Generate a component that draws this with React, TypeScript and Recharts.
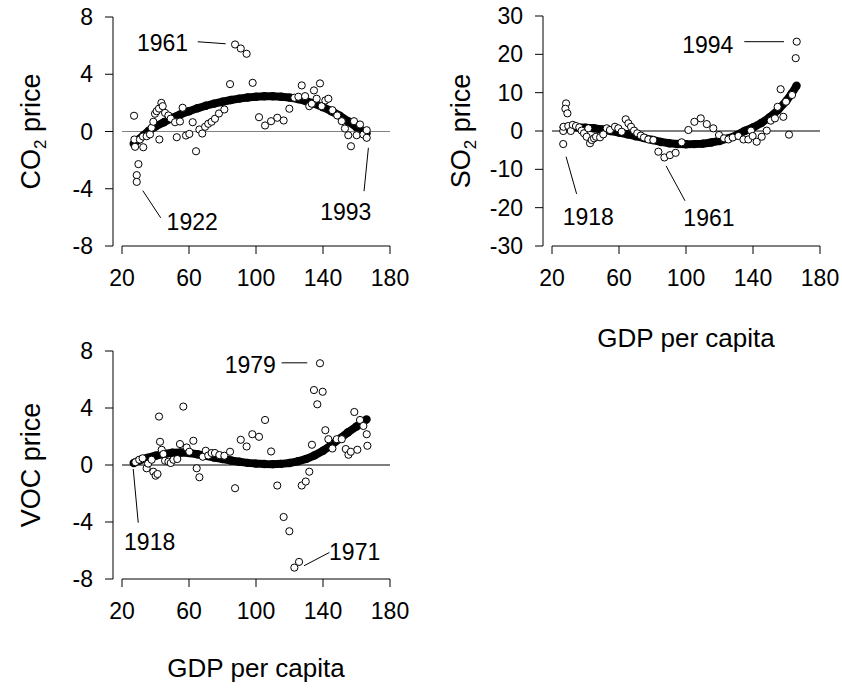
import React from 'react';
import { ScatterChart, Scatter, XAxis, YAxis, ReferenceLine, ReferenceDot } from 'recharts';

const FONT = '"Liberation Sans", Arial, Helvetica, sans-serif';

const gdpTicks = [20, 60, 100, 140, 180];
const co2Ticks = [-8, -4, 0, 4, 8];
const so2Ticks = [-30, -20, -10, 0, 10, 20, 30];
const vocTicks = [-8, -4, 0, 4, 8];

const co2Observed = [
  [27.2, 1.1], [27.4, -0.56], [27.8, -1.07], [29.8, -2.28], [28.8, -3.05], [28.8, -3.52], [30.7, -0.56],
  [32.5, -0.35], [32.7, -1.1], [34.7, -0.33], [36.7, -0.2], [37.7, 0.26], [38.7, 0.68], [39.7, 1.24],
  [40.7, 1.42], [42.1, 1.6], [43.5, 2.0], [44.3, 1.77], [45.7, 1.3], [47.7, 1.12], [49.1, 0.9], [42.3, -0.56],
  [51.7, 0.65], [52.7, -0.4], [54.6, 0.7], [56.2, 1.66], [58.2, -0.28], [60.2, -0.17], [62.2, 0.65],
  [64.2, -1.38], [66.2, 0.14], [67.9, -0.14], [69.6, 0.33], [71.5, 0.54], [73.5, 0.68], [75.5, 0.89],
  [77.9, 1.26], [81.1, 1.54], [84.5, 3.31], [87.5, 6.08], [90.9, 5.8], [94.4, 5.43], [98.0, 3.4],
  [101.8, 1.0], [105.4, 0.42], [109, 0.72], [112.7, 0.96], [116.5, 0.77], [119.9, 1.59], [122.9, 2.36],
  [125.3, 2.43], [127.3, 3.22], [129.3, 2.47], [131.8, 1.77], [133.3, 1.94], [134.6, 2.87], [136.2, 2.29],
  [138.2, 3.36], [139.2, 1.77], [141.4, 2.17], [143.2, 2.29], [145.6, 1.49], [148.5, 1.12], [151.2, 0.72],
  [153.1, 0.21], [155.1, -0.26], [156.7, -1.03], [158.5, 0.72], [160.1, -0.26], [162.1, 0.49],
  [164.1, -0.21], [166.1, 0.09], [166.1, -0.44],
];
const co2Fitted = [
  [27, -0.85], [30, -0.55], [33, -0.25], [36, 0.05], [40, 0.35], [45, 0.65], [50, 0.95], [55, 1.2],
  [60, 1.42], [65, 1.62], [70, 1.8], [75, 1.95], [80, 2.08], [85, 2.2], [90, 2.3], [95, 2.38], [100, 2.43],
  [105, 2.46], [110, 2.46], [115, 2.43], [120, 2.37], [125, 2.27], [130, 2.12], [135, 1.93], [140, 1.7],
  [145, 1.42], [150, 1.1], [155, 0.72], [160, 0.3], [163, 0.08], [166, -0.12],
];

const so2Observed = [
  [26.7, -3.4], [28.4, 7.2], [28.0, 5.8], [29.2, 4.6], [26.7, 0], [26.9, 1.1], [29.7, 1.3], [31.2, 0],
  [32.4, 1.6], [34.3, 1.3], [36.3, 0.95], [37.7, 0.1], [39.1, -0.6], [40.7, -1.5], [41.7, 0.7], [42.7, -3.2],
  [43.7, -2.35], [45.1, -1.9], [46.3, -1.5], [48.7, -1.65], [50.6, -0.87], [52.7, 0.7], [54.6, 0.26],
  [57.6, 1.1], [59.6, 0.7], [61.6, -0.2], [64, 3.05], [65.6, 2.0], [67.2, 1.1], [69, 0.1], [70.9, -0.6],
  [73, -1.2], [74.9, -1.7], [77.5, -2.2], [80.5, -2.35], [83.5, -5.4], [87.1, -6.9], [90.4, -6.3],
  [93.8, -5.7], [97.4, -2.95], [101.4, 0.26], [105, 2.4], [108.8, 3.3], [112.4, 1.8], [116.3, 0.7],
  [119.7, -1.05], [122.7, -1.9], [125.3, -2.2], [127.9, -1.7], [131.3, -1.3], [134.3, -2.2], [137.2, -2.2],
  [138.8, 0.1], [139.8, -1.3], [142.2, -2.8], [145.2, -1.5], [148.2, 0.1], [150.6, 2.7], [153.1, 3.3],
  [154.7, 6.3], [156.5, 10.9], [158.1, 3.7], [159.7, 7.65], [161.5, -0.95], [163.3, 9.4], [165.5, 19],
  [166.1, 23.3],
];
const so2Fitted = [
  [27, 0.95], [30, 1.0], [35, 0.95], [40, 0.85], [45, 0.7], [50, 0.4], [55, 0.0], [60, -0.4], [65, -0.85],
  [70, -1.35], [75, -1.85], [80, -2.35], [85, -2.85], [90, -3.2], [95, -3.38], [100, -3.45], [105, -3.42],
  [110, -3.3], [115, -3.0], [120, -2.6], [125, -1.95], [130, -1.15], [135, 0.0], [140, 0.9], [145, 2.1],
  [150, 3.6], [155, 5.5], [160, 7.9], [163, 9.7], [166, 11.8],
];

const vocObserved = [
  [28, 0.2], [30.3, 0.37], [32.3, 0.47], [34.7, -0.23], [35.6, 0.1], [37.7, 0.37], [38.7, -0.47],
  [40.1, -0.75], [41.2, -0.63], [42.1, 3.4], [42.7, 1.63], [43.7, 1.07], [44.7, 0.77], [45.7, 0.3],
  [47.7, 0.23], [49.1, 0.14], [50.7, 0.37], [53.0, 0.42], [54.6, 1.47], [56.6, 4.1], [58.6, 1.23],
  [60.2, 0.93], [62.6, 1.7], [64.6, -0.23], [66.2, -0.86], [68.2, 0.58], [70, 1.0], [71.5, 0.67],
  [73.5, 0.84], [75.5, 0.84], [78.1, 0.7], [81.1, 0.65], [84.5, 0.93], [87.5, -1.63], [90.9, 1.77],
  [94.4, 1.3], [97.8, 2.16], [101.8, 1.98], [105.4, 3.16], [109, 0.95], [112.7, -1.44], [116.5, -3.65],
  [119.9, -4.65], [122.9, -7.2], [125.7, -6.8], [127.3, -1.44], [129.7, -1.16], [131.8, -0.47],
  [133.4, 1.42], [134.6, 5.26], [136.6, 4.26], [138.2, 7.14], [139.8, 5.14], [141.4, 2.44], [143.2, 1.81],
  [145.6, 1.16], [148.2, 1.81], [151.2, 1.81], [153.6, 1.12], [155.2, 0.72], [156.6, 0.93], [158.7, 3.72],
  [160.5, 1.07], [162.1, 3.16], [164.1, 2.74], [166.1, 2.16], [166.5, 1.35],
];
const vocFitted = [
  [27, 0.14], [30, 0.3], [35, 0.5], [40, 0.65], [45, 0.78], [50, 0.86], [55, 0.88], [60, 0.84], [65, 0.75],
  [70, 0.64], [75, 0.52], [80, 0.42], [85, 0.32], [90, 0.23], [95, 0.15], [100, 0.1], [105, 0.07],
  [110, 0.06], [115, 0.08], [120, 0.14], [125, 0.26], [130, 0.43], [135, 0.68], [140, 1.0], [145, 1.4],
  [150, 1.85], [155, 2.3], [160, 2.7], [163, 2.95], [166, 3.2],
];

// annotations: [label, textX, textY, lineX1, lineY1, lineX2, lineY2]
const co2Notes: [string, number, number, number, number, number, number][] = [
  ['1961', 44.2, 5.62, 65.2, 6.27, 81.9, 6.13],
  ['1922', 61.9, -6.85, 32.4, -4.13, 43.1, -6.03],
  ['1993', 153.6, -6.2, 167.1, -1.14, 164.5, -4.17],
];
const so2Notes: [string, number, number, number, number, number, number][] = [
  ['1994', 113.0, 20.3, 134.8, 23.3, 158.5, 23.3],
  ['1918', 41.7, -24.5, 28.4, -6.7, 34.7, -16.4],
  ['1961', 113.7, -24.8, 88.1, -9.1, 99.4, -18.2],
];
const vocNotes: [string, number, number, number, number, number, number][] = [
  ['1979', 96.6, 6.47, 115.3, 7.17, 130.6, 7.17],
  ['1918', 36.5, -5.98, 26.7, -0.28, 29.7, -4.05],
  ['1971', 158.9, -6.68, 128.7, -7.07, 143.8, -6.14],
];

const toPts = (arr: number[][]) => arr.map(([gdp, price]) => ({ gdp, price }));

const openCircle = (p: any) => (
  <circle cx={p.cx} cy={p.cy} r={3.6} fill="#fff" stroke="#000" strokeWidth={1} />
);
const filledCircle = (p: any) => <circle cx={p.cx} cy={p.cy} r={4.2} fill="#000" stroke="none" />;
const noShape = () => <g />;

const TICK_FS = 23;
const YTITLE_FS = 27;
const XTITLE_FS = 26;
const NOTE_FS = 23;

function Panel(props: any) {
  const {
    left, top, width, height, margin, xAxisHeight, observed, fitted, ticks, domain, zeroColor,
    yTitle, yTitleSub, yTitleRest, xTitle, notes, xTitleOffset,
  } = props;
  const zero = [{ gdp: 20, price: 0 }, { gdp: 180, price: 0 }];
  return (
    <div style={{ position: 'absolute', left, top }}>
      <ScatterChart width={width} height={height} margin={margin}>
        <XAxis
          type="number"
          dataKey="gdp"
          domain={[20, 180]}
          ticks={gdpTicks}
          interval={0}
          padding={{ left: 9, right: 0 }}
          axisLine={false}
          tickLine={{ stroke: '#000', strokeWidth: 1 }}
          tickSize={8}
          tickMargin={16}
          height={xAxisHeight}
          tick={{ fill: '#000', fontSize: TICK_FS, fontFamily: FONT }}
          label={
            xTitle
              ? {
                  content: (lp: any) => {
                    const vb = lp.viewBox || {};
                    const cx = vb.x + 9 + (vb.width - 9) / 2;
                    return (
                      <text x={cx} y={vb.y + xTitleOffset} textAnchor="middle" fontSize={XTITLE_FS} fontFamily={FONT} fill="#000">
                        {xTitle}
                      </text>
                    );
                  },
                }
              : undefined
          }
        />
        <YAxis
          type="number"
          dataKey="price"
          domain={domain}
          ticks={ticks}
          interval={0}
          width={113}
          axisLine={{ stroke: '#000', strokeWidth: 1 }}
          tickLine={{ stroke: '#000', strokeWidth: 1 }}
          tickSize={8}
          tickMargin={12}
          tick={{ fill: '#000', fontSize: TICK_FS, fontFamily: FONT }}
          label={{
            content: (lp: any) => {
              const vb = lp.viewBox || {};
              const cx = vb.x + 40;
              const cy = vb.y + vb.height / 2;
              return (
                <text x={cx} y={cy} transform={`rotate(-90 ${cx} ${cy})`} textAnchor="middle" fontSize={YTITLE_FS} fontFamily={FONT} fill="#000">
                  {yTitle}
                  {yTitleSub ? (
                    <tspan fontSize={17} dy={6}>{yTitleSub}</tspan>
                  ) : null}
                  {yTitleSub ? <tspan dy={-6}>{yTitleRest}</tspan> : null}
                </text>
              );
            },
          }}
        />
        <Scatter data={zero} line={{ stroke: zeroColor, strokeWidth: 1.2 }} shape={noShape} isAnimationActive={false} />
        <Scatter data={toPts(fitted)} line={{ stroke: '#000', strokeWidth: 8 }} shape={filledCircle} isAnimationActive={false} />
        <Scatter data={toPts(observed)} shape={openCircle} isAnimationActive={false} />
        <ReferenceLine segment={[{ x: 20, y: domain[0] }, { x: 180, y: domain[0] }]} stroke="#000" strokeWidth={1} ifOverflow="visible" />
        {notes.map((n: any, i: number) => (
          <ReferenceLine key={'l' + i} segment={[{ x: n[3], y: n[4] }, { x: n[5], y: n[6] }]} stroke="#000" strokeWidth={1} ifOverflow="visible" />
        ))}
        {notes.map((n: any, i: number) => (
          <ReferenceDot
            key={'t' + i}
            x={n[1]}
            y={n[2]}
            r={0}
            ifOverflow="visible"
            shape={(sp: any) => (
              <text x={sp.cx} y={sp.cy} textAnchor="middle" fontSize={NOTE_FS} fontFamily={FONT} fill="#000">
                {n[0]}
              </text>
            )}
          />
        ))}
      </ScatterChart>
    </div>
  );
}

export default function App() {
  return (
    <div style={{ position: 'absolute', left: 0, top: 0, width: 842, height: 688, background: '#fff' }}>
      <Panel
        left={0}
        top={0}
        width={420}
        height={330}
        margin={{ top: 17, right: 30, bottom: 24, left: 0 }}
        xAxisHeight={60}
        observed={co2Observed}
        fitted={co2Fitted}
        ticks={co2Ticks}
        domain={[-8, 8]}
        zeroColor="#808080"
        yTitle="CO"
        yTitleSub="2"
        yTitleRest=" price"
        notes={co2Notes}
      />
      <Panel
        left={430}
        top={0}
        width={412}
        height={360}
        margin={{ top: 16, right: 22, bottom: 4, left: 0 }}
        xAxisHeight={110}
        observed={so2Observed}
        fitted={so2Fitted}
        ticks={so2Ticks}
        domain={[-30, 30]}
        zeroColor="#000"
        yTitle="SO"
        yTitleSub="2"
        yTitleRest=" price"
        xTitle="GDP per capita"
        xTitleOffset={101}
        notes={so2Notes}
      />
      <Panel
        left={0}
        top={330}
        width={420}
        height={358}
        margin={{ top: 21, right: 30, bottom: 4, left: 0 }}
        xAxisHeight={105}
        observed={vocObserved}
        fitted={vocFitted}
        ticks={vocTicks}
        domain={[-8, 8]}
        zeroColor="#000"
        yTitle="VOC price"
        xTitle="GDP per capita"
        xTitleOffset={98}
        notes={vocNotes}
      />
    </div>
  );
}
